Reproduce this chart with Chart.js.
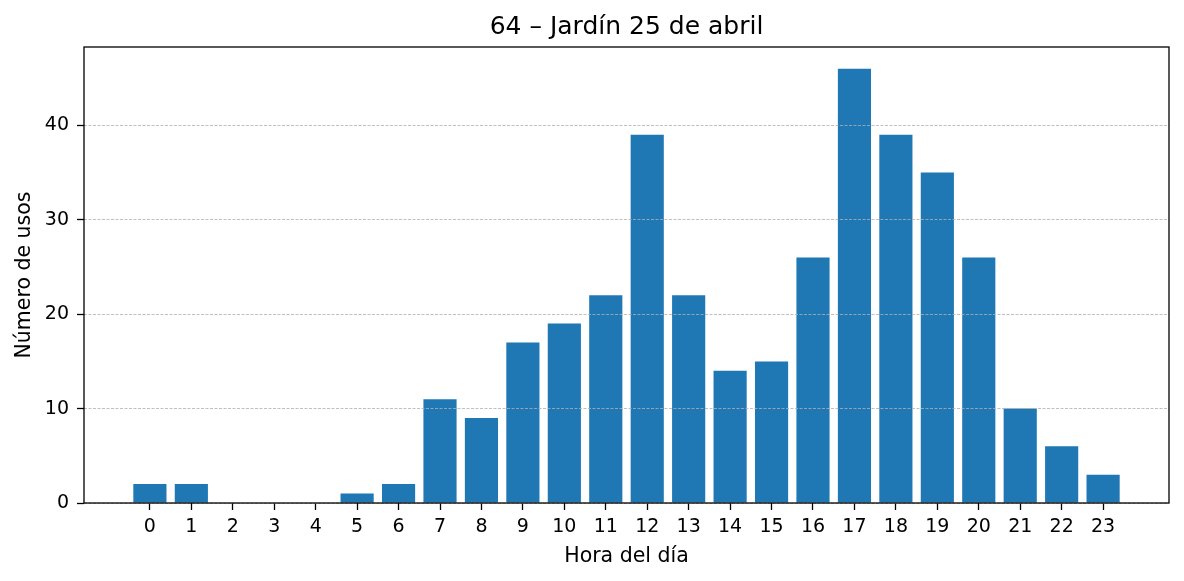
<!DOCTYPE html>
<html>
<head>
<meta charset="utf-8">
<script src="https://cdn.jsdelivr.net/npm/chart.js@4"></script>
<style>
  html, body { margin: 0; padding: 0; background: #fff; }
  #wrap { width: 1184px; height: 581px; }
</style>
</head>
<body>
<div id="wrap"><canvas id="c" width="1184" height="581"></canvas></div>
<script>
const hours = [0,1,2,3,4,5,6,7,8,9,10,11,12,13,14,15,16,17,18,19,20,21,22,23];
const usos  = [2,2,0,0,0,1,2,11,9,17,19,22,39,22,14,15,26,46,39,35,26,10,6,3];
const yTicks = [0,10,20,30,40];
const titleText = '64 – Jardín 25 de abril';
const xLabel = 'Hora del día';
const yLabel = 'Número de usos';

const FONT = "'DejaVu Sans', sans-serif";

const framePlugin = {
  id: 'frame',
  afterDraw(chart) {
    const {ctx, chartArea: a} = chart;
    ctx.save();
    ctx.strokeStyle = '#000';
    ctx.lineWidth = 1.3;
    ctx.strokeRect(a.left, a.top, a.right - a.left, a.bottom - a.top);
    ctx.restore();
  }
};

new Chart(document.getElementById('c'), {
  type: 'bar',
  data: {
    datasets: [{
      data: hours.map((h, i) => ({x: h, y: usos[i]})),
      backgroundColor: '#1f77b4',
      borderWidth: 0,
      barPercentage: 0.8,
      categoryPercentage: 1.0
    }]
  },
  options: {
    responsive: false,
    animation: false,
    devicePixelRatio: 1,
    layout: { padding: { left: 0, right: 15, top: 0, bottom: 0 } },
    plugins: {
      legend: { display: false },
      tooltip: { enabled: false },
      title: {
        display: true,
        fullSize: false,
        text: titleText,
        color: '#000',
        font: { family: FONT, size: 25, weight: 'normal', lineHeight: 1.2 },
        padding: { top: 12, bottom: 5 }
      }
    },
    scales: {
      x: {
        type: 'linear',
        min: -1.59,
        max: 24.59,
        offset: false,
        afterBuildTicks(scale) { scale.ticks = hours.map(v => ({value: v})); },
        afterFit(scale) { scale.height = 78; },
        ticks: {
          autoSkip: false,
          maxRotation: 0,
          color: '#000',
          padding: 6,
          font: { family: FONT, size: 19 },
          callback: (v) => String(v)
        },
        grid: {
          offset: false,
          drawOnChartArea: false,
          drawTicks: true,
          tickLength: 7,
          tickWidth: 1.3,
          tickColor: '#000'
        },
        border: { display: false },
        title: {
          display: true,
          text: xLabel,
          color: '#000',
          font: { family: FONT, size: 20.5, lineHeight: 1.2 },
          padding: { top: 0, bottom: 12 }
        }
      },
      y: {
        min: 0,
        max: 48.3,
        afterBuildTicks(scale) { scale.ticks = yTicks.map(v => ({value: v})); },
        afterFit(scale) { scale.width = 84; },
        ticks: {
          color: '#000',
          padding: 8,
          font: { family: FONT, size: 19 }
        },
        grid: {
          z: 1,
          drawOnChartArea: true,
          drawTicks: true,
          color: '#b0b0b0',
          lineWidth: 0.8,
          tickLength: 7,
          tickWidth: 1.3,
          tickColor: '#000',
          tickBorderDash: []
        },
        border: { display: false, dash: [3, 1.5] },
        title: {
          display: true,
          text: yLabel,
          color: '#000',
          font: { family: FONT, size: 20.5, lineHeight: 1.2 },
          padding: { top: 12, bottom: 0 }
        }
      }
    }
  },
  plugins: [framePlugin]
});
</script>
</body>
</html>
